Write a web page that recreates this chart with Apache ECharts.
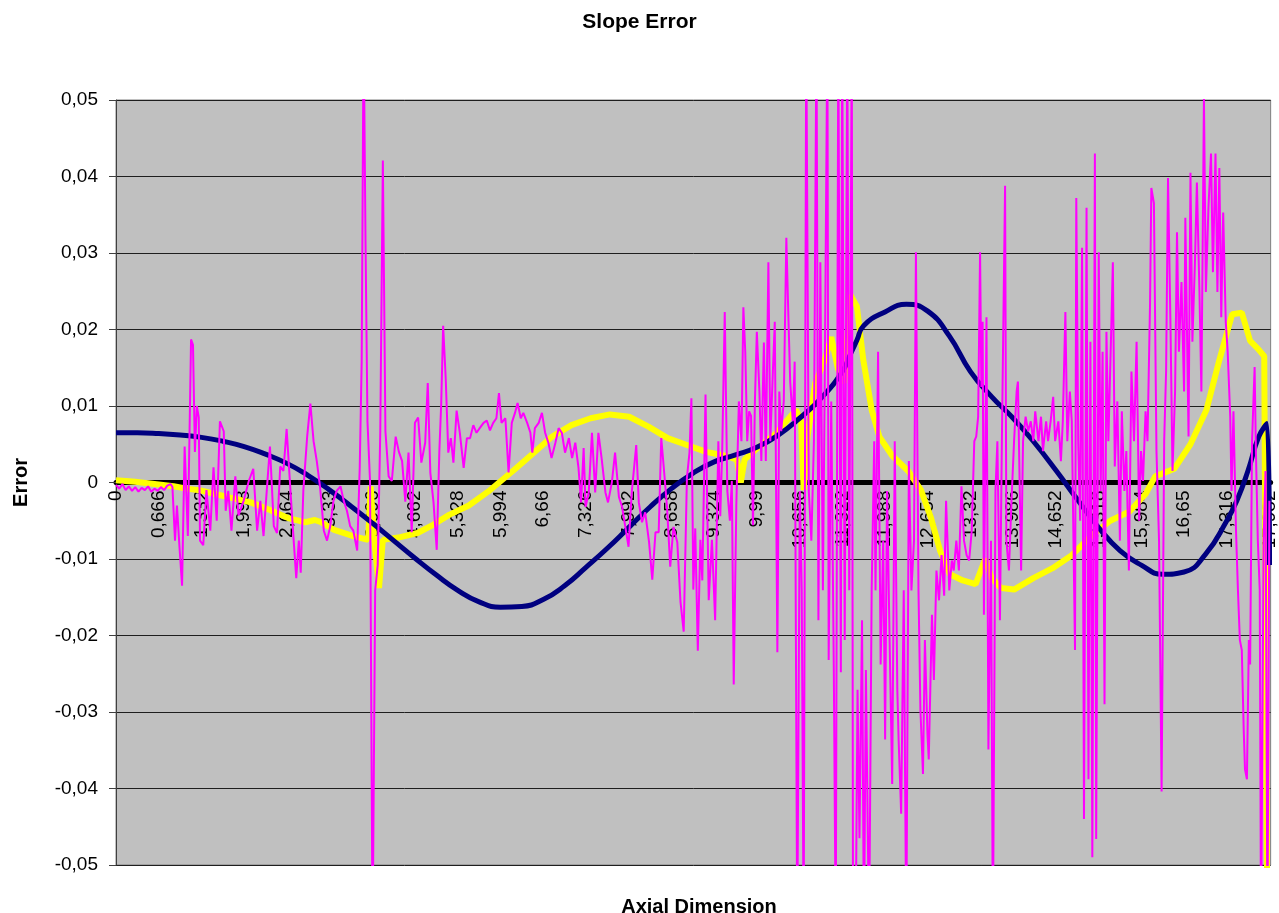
<!DOCTYPE html>
<html>
<head>
<meta charset="utf-8">
<script src="https://cdn.jsdelivr.net/npm/echarts@6/dist/echarts.min.js"></script>
<style>html,body{margin:0;padding:0;background:#fff}#chart{width:1279px;height:913px}</style>
</head>
<body>
<div id="chart"></div>
<script>
// ---- tick labels ----
const xTickStep = 0.666;
const xTickLabels = ['0','0,666','1,332','1,998','2,664','3,33','3,996','4,662','5,328','5,994','6,66','7,326','7,992','8,658','9,324','9,99','10,656','11,322','11,988','12,654','13,32','13,986','14,652','15,318','15,984','16,65','17,316','17,982'];
const yTickLabels = ['-0,05','-0,04','-0,03','-0,02','-0,01','0','0,01','0,02','0,03','0,04','0,05'];

// ---- navy (smooth) series ----
const navyX = [0,0.333,0.666,0.999,1.332,1.665,1.998,2.331,2.664,2.997,
  3.33,3.663,3.996,4.329,4.662,4.995,5.328,5.661,5.994,6.327,
  6.66,6.993,7.326,7.659,7.992,8.325,8.658,8.991,9.324,9.657,
  9.99,10.323,10.656,10.989,11.322,11.45,11.55,11.655,11.988,12.321,
  12.654,12.987,13.32,13.653,13.986,14.319,14.652,14.985,15.318,15.651,
  15.984,16.317,16.65,16.983,17.316,17.482,17.649,17.815,17.945,17.982];
const navyY = [0.0065,0.0065,0.0064,0.0062,0.0059,0.0054,0.0047,0.0037,0.0025,0.0009,
  -0.0010,-0.0031,-0.0053,-0.0076,-0.0099,-0.0121,-0.0141,-0.0156,-0.0163,-0.0162,
  -0.0153,-0.0135,-0.0111,-0.0086,-0.0059,-0.0032,-0.0008,0.0012,0.0027,0.0036,
  0.0046,0.0062,0.0084,0.0110,0.0145,0.0168,0.0186,0.0205,0.0223,0.0233,
  0.0224,0.0192,0.0145,0.0112,0.0084,0.0052,0.0016,-0.0022,-0.0059,-0.0089,
  -0.0108,-0.0120,-0.0117,-0.0094,-0.0050,-0.0022,0.0016,0.0060,0.0077,-0.0108];

// ---- yellow series ----
const yellowX = [0,0.3,0.6,0.9,1.1,1.3,1.5,1.8,2.1,2.4,
  2.7,2.95,3.1,3.2,3.4,3.7,3.93,3.97,4.02,4.1,
  4.16,4.4,4.7,4.95,5.2,5.5,5.8,6.0,6.2,6.5,
  6.8,7.1,7.4,7.7,8.0,8.3,8.6,8.9,9.2,9.5,
  9.68,9.74,9.8,10.0,10.3,10.6,10.68,10.72,10.78,10.9,
  11.05,11.15,11.25,11.35,11.45,11.55,11.65,11.78,11.9,12.1,
  12.35,12.55,12.7,12.85,13.0,13.2,13.4,13.55,13.65,13.8,
  14.0,14.3,14.6,14.9,15.2,15.5,15.8,16.05,16.2,16.5,
  16.75,17.0,17.2,17.4,17.55,17.68,17.8,17.9,17.95,17.982];
const yellowY = [0.0003,0.0001,-0.0002,-0.0005,-0.0008,-0.0010,-0.0014,-0.0020,-0.0026,-0.0036,
  -0.0047,-0.0052,-0.0049,-0.0052,-0.0062,-0.0070,-0.0075,-0.0005,-0.0070,-0.0138,
  -0.0075,-0.0072,-0.0066,-0.0055,-0.0042,-0.0030,-0.0012,0.0002,0.0016,0.0038,
  0.0060,0.0075,0.0084,0.0089,0.0086,0.0073,0.0058,0.0049,0.0040,0.0035,
  0.0030,0.0000,0.0030,0.0045,0.0065,0.0095,0.0080,-0.0010,0.0060,0.0130,
  0.0160,0.0190,0.0150,0.0130,0.0245,0.0230,0.0160,0.0095,0.0060,0.0035,
  0.0015,-0.0010,-0.0045,-0.0090,-0.0120,-0.0128,-0.0133,-0.0100,-0.0125,-0.0138,
  -0.0140,-0.0125,-0.0112,-0.0095,-0.0070,-0.0050,-0.0038,-0.0015,0.0008,0.0018,
  0.0050,0.0095,0.0160,0.0220,0.0222,0.0185,0.0175,0.0165,-0.0600,-0.0600];

// ---- magenta (noisy) series ----
const magentaX = [
  0.00,0.05,0.10,0.15,0.20,0.25,0.30,0.35,0.40,0.45,
  0.50,0.55,0.60,0.65,0.70,0.75,0.80,0.85,0.88,0.92,
  0.95,0.99,1.03,1.07,1.12,1.17,1.20,1.23,1.26,1.29,
  1.31,1.36,1.41,1.47,1.52,1.57,1.62,1.68,1.71,1.75,
  1.80,1.86,1.91,1.99,2.07,2.14,2.20,2.25,2.30,2.35,
  2.40,2.46,2.51,2.56,2.61,2.66,2.72,2.77,2.81,2.85,
  2.88,2.92,2.98,3.03,3.08,3.13,3.18,3.24,3.29,3.34,
  3.39,3.44,3.50,3.55,3.60,3.65,3.70,3.76,3.80,3.83,
  3.86,3.89,3.92,3.96,4.00,4.04,4.08,4.12,4.16,4.20,
  4.25,4.30,4.36,4.41,4.46,4.51,4.56,4.61,4.66,4.71,
  4.76,4.82,4.86,4.90,4.95,5.00,5.04,5.07,5.10,5.14,
  5.18,5.22,5.26,5.31,5.36,5.42,5.47,5.52,5.57,5.62,
  5.67,5.73,5.78,5.83,5.88,5.93,5.97,6.01,6.07,6.12,
  6.17,6.22,6.26,6.31,6.35,6.41,6.46,6.49,6.53,6.59,
  6.64,6.69,6.74,6.79,6.85,6.90,6.95,7.00,7.06,7.11,
  7.16,7.21,7.25,7.29,7.32,7.37,7.42,7.47,7.52,7.57,
  7.63,7.67,7.73,7.78,7.84,7.89,7.94,7.99,8.04,8.11,
  8.15,8.20,8.25,8.31,8.36,8.41,8.46,8.50,8.54,8.59,
  8.64,8.69,8.75,8.80,8.85,8.90,8.94,8.97,9.00,9.03,
  9.07,9.11,9.14,9.19,9.24,9.29,9.34,9.39,9.42,9.45,
  9.49,9.53,9.57,9.60,9.63,9.67,9.71,9.75,9.78,9.81,
  9.84,9.87,9.90,9.93,9.96,9.99,10.03,10.06,10.10,10.13,
  10.17,10.20,10.24,10.27,10.31,10.34,10.37,10.41,10.45,10.48,
  10.51,10.55,10.58,10.62,10.66,10.69,10.72,10.76,10.80,10.84,
  10.88,10.92,10.95,10.98,11.02,11.05,11.09,11.11,11.15,11.19,
  11.22,11.26,11.30,11.32,11.36,11.40,11.43,11.47,11.49,11.53,
  11.56,11.59,11.63,11.66,11.69,11.74,11.78,11.82,11.84,11.88,
  11.92,11.96,11.99,12.02,12.06,12.10,12.14,12.18,12.20,12.24,
  12.28,12.32,12.36,12.40,12.44,12.47,12.51,12.54,12.58,12.61,
  12.65,12.67,12.72,12.75,12.79,12.83,12.87,12.91,12.94,12.99,
  13.03,13.06,13.10,13.14,13.18,13.22,13.26,13.30,13.34,13.38,
  13.41,13.44,13.47,13.49,13.51,13.53,13.57,13.60,13.64,13.67,
  13.71,13.74,13.78,13.81,13.86,13.88,13.92,13.96,14.00,14.04,
  14.06,14.11,14.14,14.18,14.22,14.26,14.30,14.33,14.38,14.42,
  14.45,14.50,14.53,14.57,14.61,14.64,14.69,14.73,14.76,14.80,
  14.83,14.87,14.90,14.95,14.97,15.00,15.03,15.06,15.09,15.13,
  15.16,15.19,15.22,15.26,15.28,15.32,15.35,15.38,15.41,15.44,
  15.47,15.51,15.54,15.57,15.61,15.65,15.68,15.72,15.75,15.79,
  15.83,15.87,15.91,15.95,15.98,16.01,16.05,16.08,16.12,16.14,
  16.18,16.22,16.26,16.30,16.34,16.37,16.40,16.44,16.47,16.51,
  16.54,16.57,16.61,16.65,16.67,16.72,16.75,16.78,16.82,16.85,
  16.89,16.92,16.96,16.99,17.03,17.07,17.10,17.14,17.17,17.20,
  17.23,17.26,17.30,17.33,17.37,17.39,17.42,17.46,17.49,17.52,
  17.55,17.58,17.60,17.63,17.66,17.68,17.71,17.75,17.77,17.80,
  17.83,17.85,17.89,17.92,17.95,17.98];
const magentaY = [
  -0.0003,-0.0008,-0.0002,-0.0010,-0.0005,-0.0011,-0.0006,-0.0012,-0.0007,-0.0010,
  -0.0005,-0.0012,-0.0008,-0.0011,-0.0006,-0.0010,-0.0004,-0.0002,-0.0006,-0.0076,
  -0.0030,-0.0085,-0.0135,0.0047,-0.0070,0.0187,0.0180,0.0040,0.0100,0.0085,
  -0.0076,-0.0082,-0.0010,-0.0063,0.0020,-0.0050,0.0080,0.0067,-0.0037,-0.0011,
  -0.0063,0.0008,-0.0043,-0.0024,0.0002,0.0018,-0.0063,-0.0024,-0.0070,-0.0011,
  0.0047,-0.0057,-0.0066,0.0021,0.0015,0.0070,-0.0011,-0.0076,-0.0125,-0.0076,
  -0.0118,-0.0011,0.0060,0.0103,0.0054,0.0028,-0.0005,-0.0063,-0.0076,-0.0057,
  -0.0024,-0.0011,-0.0005,-0.0024,-0.0037,-0.0057,-0.0063,-0.0089,0.0021,0.0158,
  0.0600,0.0313,0.0080,0.0002,-0.0600,-0.0141,-0.0108,0.0067,0.0421,0.0067,
  0.0008,0.0002,0.0060,0.0040,0.0028,-0.0025,0.0039,-0.0065,0.0078,0.0085,
  0.0026,0.0052,0.0130,0.0013,-0.0026,-0.0088,0.0039,0.0104,0.0205,0.0136,
  0.0039,0.0058,0.0026,0.0094,0.0065,0.0019,0.0058,0.0058,0.0075,0.0065,
  0.0071,0.0078,0.0081,0.0068,0.0078,0.0084,0.0117,0.0078,0.0084,0.0013,
  0.0078,0.0091,0.0104,0.0084,0.0091,0.0078,0.0065,0.0039,0.0071,0.0078,
  0.0091,0.0065,0.0052,0.0032,0.0052,0.0071,0.0065,0.0039,0.0058,0.0032,
  0.0052,0.0019,-0.0026,0.0045,-0.0032,-0.0013,0.0065,-0.0013,0.0065,0.0032,
  -0.0013,-0.0026,0.0000,0.0039,-0.0019,-0.0032,-0.0058,-0.0084,-0.0013,0.0049,
  -0.0026,-0.0052,-0.0039,-0.0078,-0.0127,-0.0065,-0.0065,0.0058,0.0019,-0.0032,
  -0.0110,-0.0058,-0.0078,-0.0156,-0.0195,0.0006,0.0039,0.0110,-0.0140,-0.0060,
  -0.0220,-0.0075,-0.0128,0.0115,-0.0154,-0.0075,-0.0180,0.0054,-0.0044,0.0041,
  0.0223,-0.0011,-0.0050,0.0002,-0.0264,-0.0030,0.0106,0.0054,0.0229,0.0170,
  0.0054,0.0093,0.0087,-0.0056,0.0106,0.0197,0.0119,0.0028,0.0183,0.0028,
  0.0288,0.0054,0.0145,0.0210,-0.0222,0.0119,0.0067,0.0106,0.0320,0.0223,
  0.0132,0.0080,0.0158,-0.0600,-0.0011,-0.0141,-0.0600,0.0600,-0.0011,-0.0076,
  0.0054,0.0600,-0.0180,0.0288,-0.0141,0.0145,0.0600,-0.0232,0.0106,-0.0245,
  -0.0600,0.0600,-0.0248,0.0600,-0.0206,0.0600,-0.0141,0.0600,-0.0600,-0.0600,
  -0.0271,-0.0465,-0.0180,-0.0600,-0.0245,-0.0600,-0.0141,0.0054,-0.0141,0.0171,
  -0.0238,-0.0076,-0.0336,-0.0011,-0.0206,-0.0394,0.0054,-0.0271,-0.0336,-0.0433,
  -0.0141,-0.0600,0.0028,-0.0141,-0.0076,0.0301,-0.0141,-0.0297,-0.0381,-0.0206,
  -0.0329,-0.0362,-0.0173,-0.0258,-0.0115,-0.0154,-0.0095,-0.0148,-0.0024,-0.0141,
  -0.0102,-0.0115,-0.0076,-0.0115,-0.0005,-0.0076,-0.0095,-0.0102,-0.0063,0.0054,
  0.0060,0.0086,0.0301,0.0125,0.0210,-0.0173,0.0216,-0.0349,-0.0076,-0.0600,
  -0.0011,0.0054,-0.0180,0.0054,0.0388,-0.0076,-0.0115,-0.0024,0.0054,0.0119,
  0.0132,-0.0115,0.0054,0.0086,0.0067,0.0080,0.0054,0.0093,0.0054,0.0086,
  0.0041,0.0080,0.0054,0.0080,0.0112,0.0054,0.0080,0.0028,0.0080,0.0223,
  0.0054,0.0119,0.0080,-0.0219,0.0372,0.0054,-0.0050,0.0307,-0.0440,0.0359,
  -0.0388,0.0184,-0.0490,0.0430,-0.0466,0.0301,-0.0011,0.0171,-0.0290,0.0197,
  0.0054,0.0184,0.0288,0.0021,0.0106,-0.0076,0.0093,-0.0011,0.0041,-0.0115,
  0.0145,0.0054,0.0184,-0.0050,0.0041,0.0002,0.0093,0.0054,0.0235,0.0385,
  0.0365,0.0041,-0.0076,-0.0404,0.0054,0.0145,0.0398,0.0197,0.0015,0.0119,
  0.0327,0.0171,0.0262,0.0119,0.0346,0.0060,0.0405,0.0184,0.0288,0.0392,
  0.0249,0.0119,0.0502,0.0249,0.0359,0.0430,0.0275,0.0430,0.0249,0.0411,
  0.0216,0.0353,0.0210,0.0171,0.0086,-0.0011,0.0093,-0.0063,-0.0141,-0.0206,
  -0.0219,-0.0323,-0.0375,-0.0388,-0.0206,-0.0238,0.0054,0.0151,0.0041,-0.0076,
  -0.0141,-0.0600,-0.0076,0.0015,-0.0600,-0.0024];

const pairs = (xs, ys) => xs.map((x, i) => [x, ys[i]]);
const FONT = '"Liberation Sans", Arial, sans-serif';

const chart = echarts.init(document.getElementById('chart'), null, {renderer: 'canvas'});
chart.setOption({
  animation: false,
  backgroundColor: '#ffffff',
  title: [
    {text: 'Slope Error', left: 'center', top: 7,
     textStyle: {fontFamily: FONT, fontSize: 21, fontWeight: 'bold', color: '#000'}},
    {text: 'Axial Dimension', left: 694, top: 892, textAlign: 'center',
     textStyle: {fontFamily: FONT, fontSize: 20, fontWeight: 'bold', color: '#000'}}
  ],
  grid: {left: 116, right: 7, top: 100, bottom: 48, show: true,
         backgroundColor: '#C0C0C0', borderColor: '#808080', borderWidth: 1},
  xAxis: {
    type: 'value', min: 0, max: 18, interval: xTickStep,
    position: 'bottom', offset: -382.5,
    axisLine: {onZero: false, lineStyle: {color: '#000', width: 5}},
    axisTick: {show: false},
    splitLine: {show: false},
    axisLabel: {
      rotate: 90, margin: 8, showMaxLabel: false,
      fontFamily: FONT, fontSize: 19, color: '#000',
      formatter: v => { const k = v / xTickStep; const i = Math.round(k);
        return Math.abs(k - i) < 1e-6 && xTickLabels[i] !== undefined ? xTickLabels[i] : ''; }
    }
  },
  yAxis: {
    type: 'value', min: -0.05, max: 0.05, interval: 0.01,
    name: 'Error', nameLocation: 'middle', nameRotate: 90, nameGap: 85,
    nameTextStyle: {fontFamily: FONT, fontSize: 20, fontWeight: 'bold', color: '#000'},
    axisLine: {show: true, onZero: false, lineStyle: {color: '#404040', width: 1}},
    axisTick: {show: true, length: 7, lineStyle: {color: '#404040'}},
    splitLine: {show: true, lineStyle: {color: '#1e1e1e', width: 1}},
    axisLabel: {
      margin: 18, fontFamily: FONT, fontSize: 19, color: '#000',
      formatter: v => yTickLabels[Math.round((v + 0.05) / 0.01)]
    }
  },
  series: [
    {name: 'yellow', type: 'line', data: pairs(yellowX, yellowY), showSymbol: false, symbol: 'none',
     lineStyle: {color: '#FFFF00', width: 6}, z: 2},
    {name: 'navy', type: 'line', data: pairs(navyX, navyY), showSymbol: false, symbol: 'none',
     smooth: 0.5,
     lineStyle: {color: '#000080', width: 5}, z: 3},
    {name: 'magenta', type: 'line', data: pairs(magentaX, magentaY), showSymbol: false, symbol: 'none',
     lineStyle: {color: '#FF00FF', width: 2}, z: 4}
  ]
});
</script>
</body>
</html>
